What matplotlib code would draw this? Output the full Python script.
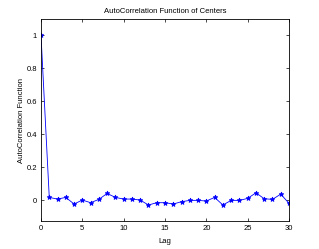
import matplotlib
matplotlib.use("Agg")
import matplotlib.pyplot as plt

lags = list(range(31))
acf = [1.0, 0.016, 0.006, 0.016, -0.024, 0.0, -0.016, 0.004, 0.04, 0.016, 0.006,
       0.006, 0.0, -0.03, -0.016, -0.016, -0.024, -0.01, -0.002, -0.002, -0.006,
       0.016, -0.03, -0.002, -0.002, 0.01, 0.044, 0.008, 0.004, 0.036, -0.02]
xticks = [0, 5, 10, 15, 20, 25, 30]
yticks = [0, 0.2, 0.4, 0.6, 0.8, 1]
ytick_labels = ["0", "0.2", "0.4", "0.6", "0.8", "1"]

plt.rcParams['font.family'] = ['Liberation Sans', 'DejaVu Sans']
fig = plt.figure(figsize=(3.19, 2.49), dpi=100)
ax = fig.add_axes([0.1285, 0.1124, 0.7775, 0.8113])
ax.plot(lags, acf, color='#0000ff', linewidth=0.6, marker='*', markersize=3.5,
        markeredgewidth=0.6)
ax.set_xlim(0, 30)
ax.set_ylim(-0.127, 1.097)
ax.set_xticks(xticks)
ax.set_yticks(yticks)
ax.set_yticklabels(ytick_labels)
ax.tick_params(direction='in', top=True, right=True, labelsize=5.5, length=2.5,
               width=0.5, pad=3)
for s in ax.spines.values():
    s.set_linewidth(0.6)
ax.set_title("AutoCorrelation Function of Centers", fontsize=5.5, pad=4)
ax.set_xlabel("Lag", fontsize=5.5, labelpad=4)
ax.set_ylabel("AutoCorrelation Function", fontsize=5.5, labelpad=1)
fig.savefig("out.png", dpi=100)
